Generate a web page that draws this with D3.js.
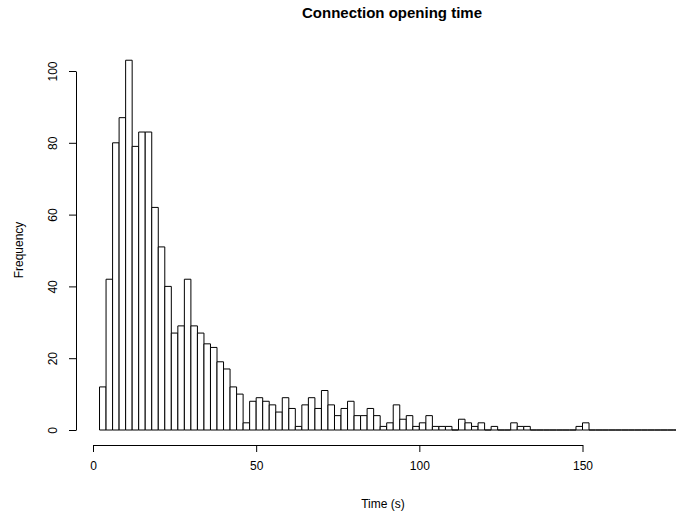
<!DOCTYPE html>
<html>
<head>
<meta charset="utf-8">
<script src="https://cdn.jsdelivr.net/npm/d3@7"></script>
<style>
  html, body { margin: 0; padding: 0; background: #fff; }
  svg { display: block; font-family: "Liberation Sans", Arial, sans-serif; }
</style>
</head>
<body>
<div id="chart"></div>
<script>
// Histogram "Connection opening time" — bins of 2 s, first bin starts at 2 s
const binStart = 2;
const binWidth = 2;
const binEnd = 180;
const counts = [
  12, 42, 80, 87, 103, 79, 83, 83, 62, 51,
  40, 27, 29, 42, 29, 27, 24, 23, 19, 17,
  12, 10, 2, 8, 9, 8, 7, 5, 9, 6,
  1, 7, 9, 6, 11, 7, 4, 6, 8, 4,
  4, 6, 4, 1, 2, 7, 3, 4, 1, 2,
  4, 1, 1, 1, 0, 3, 2, 1, 2, 0,
  1, 0, 0, 2, 1, 1, 0, 0, 0, 0,
  0, 0, 0, 1, 2
];
const xTicks = [0, 50, 100, 150];
const yTicks = [0, 20, 40, 60, 80, 100];

const chartTitle = "Connection opening time";
const xLabel = "Time (s)";
const yLabel = "Frequency";

// full list of bins to 180 (empty ones drawn flat, like R)
const nBins = (binEnd - binStart) / binWidth;
const bins = d3.range(nBins).map(i => ({
  x0: binStart + i * binWidth,
  x1: binStart + (i + 1) * binWidth,
  n: i < counts.length ? counts[i] : 0
}));

const W = 676, H = 514;

const svg = d3.select("#chart").append("svg")
  .attr("width", W)
  .attr("height", H);

const x = d3.scaleLinear().domain([0, 150]).range([93, 582.5]);
const y = d3.scaleLinear().domain([0, 100]).range([430, 71]);

// Bars
svg.append("g")
  .selectAll("path")
  .data(bins)
  .enter()
  .append("path")
    .attr("d", d => `M${x(d.x0)},${y(0)}V${y(d.n)}H${x(d.x1)}V${y(0)}Z`)
    .attr("fill", "#fff")
    .attr("stroke", "#000")
    .attr("stroke-width", 1);

// X axis
const xAxis = svg.append("g")
  .attr("transform", "translate(0,445)")
  .call(d3.axisBottom(x).tickValues(xTicks).tickSize(7).tickSizeOuter(0).tickPadding(0));
xAxis.selectAll("text")
  .attr("dy", null)
  .attr("y", 25)
  .style("font-size", "12px")
  .style("fill", "#000");
xAxis.select(".domain").attr("stroke", "#000");

// Y axis
const yAxis = svg.append("g")
  .attr("transform", "translate(76,0)")
  .call(d3.axisLeft(y).tickValues(yTicks).tickSize(7).tickSizeOuter(0));
yAxis.selectAll("text")
  .attr("x", 0)
  .attr("dy", null)
  .attr("y", -19.5)
  .attr("transform", "rotate(-90)")
  .attr("text-anchor", "middle")
  .style("font-size", "12px")
  .style("fill", "#000");

// Title and axis labels
svg.append("text")
  .attr("x", 392)
  .attr("y", 18)
  .attr("text-anchor", "middle")
  .style("font-size", "15px")
  .style("font-weight", "bold")
  .text(chartTitle);

svg.append("text")
  .attr("x", 383)
  .attr("y", 508)
  .attr("text-anchor", "middle")
  .style("font-size", "12px")
  .text(xLabel);

svg.append("text")
  .attr("transform", "translate(23,250) rotate(-90)")
  .attr("text-anchor", "middle")
  .style("font-size", "12px")
  .text(yLabel);
</script>
</body>
</html>
